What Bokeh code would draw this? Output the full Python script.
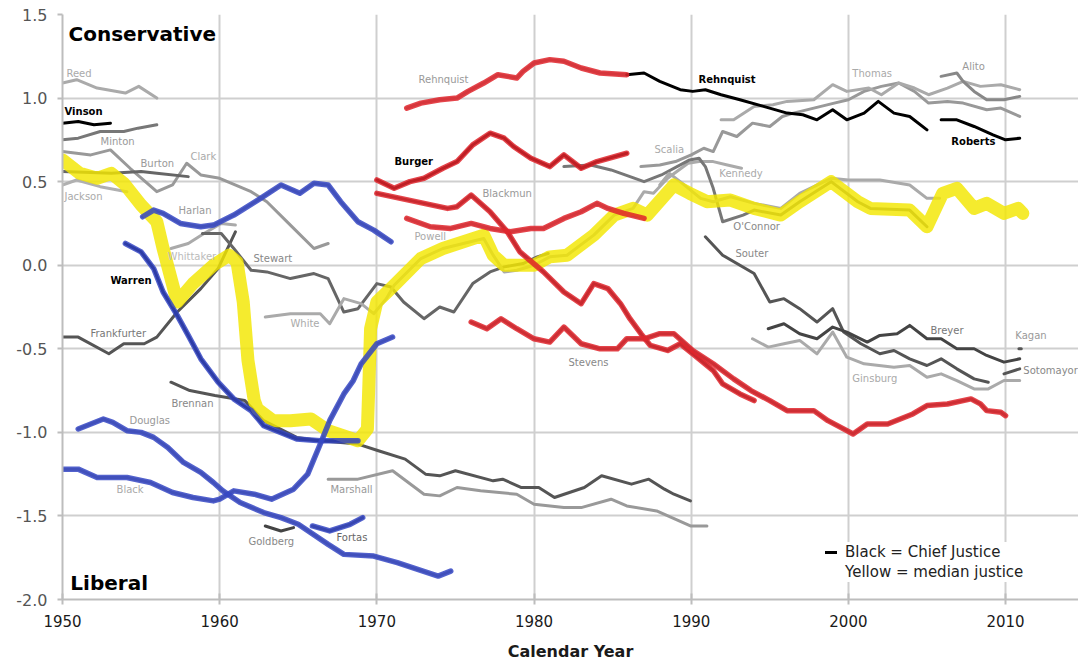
from bokeh.plotting import figure
from bokeh.models import Range1d, FixedTicker, PrintfTickFormatter, Legend, LegendItem, ColumnDataSource
from bokeh.core.properties import value
from bokeh.embed import file_html
from bokeh.resources import INLINE

FONT = "DejaVu Sans"

# ---------------- data ----------------
x_ticks = [1950, 1960, 1970, 1980, 1990, 2000, 2010]
y_ticks = [-2.0, -1.5, -1.0, -0.5, 0.0, 0.5, 1.0, 1.5]

reed_x = [1950.0, 1950.9, 1952.2, 1954.0, 1954.85, 1956.0]
reed_y = [1.09, 1.11, 1.06, 1.03, 1.07, 1.00]

vinson_x = [1950.0, 1951.0, 1952.0, 1953.05]
vinson_y = [0.85, 0.86, 0.84, 0.85]

minton_x = [1950.0, 1951.0, 1952.4, 1953.9, 1954.8, 1956.0]
minton_y = [0.75, 0.76, 0.80, 0.80, 0.82, 0.84]

clark_x = [1950.0, 1951.8, 1953.05, 1954.3, 1956.0, 1957.0, 1957.9, 1958.8, 1960.0, 1962.0, 1963.0, 1964.5, 1966.0, 1966.9]
clark_y = [0.68, 0.66, 0.69, 0.58, 0.44, 0.48, 0.61, 0.54, 0.52, 0.44, 0.38, 0.24, 0.10, 0.13]

burton_x = [1950.0, 1953.1, 1955.0, 1956.0, 1958.0]
burton_y = [0.56, 0.55, 0.56, 0.55, 0.53]

jackson_x = [1950.0, 1950.9, 1952.4, 1954.1]
jackson_y = [0.48, 0.51, 0.47, 0.44]

frankfurter_x = [1950.0, 1951.0, 1952.95, 1953.9, 1955.2, 1956.0, 1957.3, 1958.8, 1959.9, 1961.0]
frankfurter_y = [-0.43, -0.43, -0.53, -0.47, -0.47, -0.43, -0.28, -0.14, -0.02, 0.20]

warren_x = [1954.0, 1955.0, 1955.8, 1956.4, 1957.3, 1958.0, 1958.8, 1959.9, 1960.9, 1962.0, 1962.8, 1964.9, 1966.4, 1968.8]
warren_y = [0.13, 0.08, -0.02, -0.16, -0.30, -0.42, -0.56, -0.70, -0.80, -0.87, -0.96, -1.04, -1.05, -1.05]

harlan_x = [1955.1, 1955.8, 1956.4, 1957.5, 1958.8, 1959.6, 1960.9, 1962.6, 1963.9, 1965.1, 1966.0, 1966.9, 1967.7, 1968.8, 1969.8, 1970.9]
harlan_y = [0.29, 0.33, 0.31, 0.25, 0.23, 0.24, 0.30, 0.40, 0.48, 0.43, 0.49, 0.48, 0.38, 0.26, 0.21, 0.14]

whittaker_x = [1956.9, 1958.0, 1959.0, 1960.1, 1961.0]
whittaker_y = [0.10, 0.13, 0.19, 0.25, 0.24]

stewart_x = [1958.9, 1960.1, 1960.9, 1962.0, 1963.0, 1964.5, 1966.0, 1966.9, 1967.9, 1968.8, 1970.0, 1970.9, 1971.7,
             1973.0, 1974.0, 1974.9, 1976.1, 1977.2, 1978.1, 1979.3, 1980.2, 1980.9]
stewart_y = [0.19, 0.19, 0.10, -0.03, -0.04, -0.08, -0.05, -0.08, -0.28, -0.26, -0.11, -0.13, -0.22,
             -0.32, -0.25, -0.28, -0.11, -0.04, -0.01, 0.01, 0.05, 0.07]

white_x = [1962.9, 1964.5, 1966.4, 1967.0, 1967.9, 1969.0, 1969.8, 1970.6, 1971.1, 1972.8, 1974.2, 1976.8, 1977.4,
           1978.1, 1978.9, 1980.0, 1981.0, 1982.1, 1983.8, 1985.1, 1986.3, 1987.0, 1987.6, 1988.5, 1989.8, 1990.5,
           1991.4, 1992.3, 1993.2]
white_y = [-0.31, -0.29, -0.29, -0.35, -0.20, -0.23, -0.29, -0.20, -0.12, 0.04, 0.10, 0.16, 0.06,
           -0.04, -0.03, 0.0, 0.05, 0.06, 0.18, 0.30, 0.34, 0.44, 0.43, 0.52, 0.61, 0.62,
           0.62, 0.60, 0.58]

brennan_x = [1956.9, 1958.1, 1959.7, 1961.6, 1962.8, 1964.9, 1966.4, 1968.8, 1970.1, 1971.8, 1973.1, 1974.0, 1975.0,
             1977.4, 1978.0, 1979.2, 1980.3, 1981.3, 1983.2, 1984.3, 1986.2, 1987.3, 1988.3, 1988.9, 1989.95]
brennan_y = [-0.70, -0.75, -0.78, -0.81, -0.93, -1.03, -1.05, -1.07, -1.11, -1.16, -1.25, -1.26, -1.23,
             -1.29, -1.28, -1.33, -1.33, -1.39, -1.33, -1.26, -1.31, -1.28, -1.34, -1.37, -1.41]

marshall_x = [1966.9, 1968.8, 1971.0, 1973.0, 1974.0, 1975.1, 1976.6, 1978.9, 1980.0, 1981.9, 1983.0, 1984.9, 1985.9,
              1987.8, 1989.95, 1991.0]
marshall_y = [-1.28, -1.28, -1.23, -1.37, -1.38, -1.33, -1.35, -1.37, -1.43, -1.45, -1.45, -1.40, -1.44,
              -1.47, -1.56, -1.56]

black_x = [1950.0, 1951.0, 1952.2, 1954.1, 1955.6, 1957.0, 1958.3, 1959.6, 1960.0, 1960.9, 1962.2, 1963.3, 1964.7,
           1965.6, 1966.4, 1967.0, 1967.9, 1968.5, 1969.0, 1970.0, 1971.0]
black_y = [-1.22, -1.22, -1.27, -1.27, -1.30, -1.36, -1.39, -1.41, -1.40, -1.35, -1.37, -1.40, -1.34,
           -1.25, -1.07, -0.93, -0.77, -0.69, -0.59, -0.47, -0.43]

douglas_x = [1951.0, 1951.8, 1952.6, 1953.2, 1954.1, 1955.0, 1955.8, 1956.7, 1957.7, 1958.8, 1959.6, 1960.2, 1961.3,
             1962.8, 1963.9, 1965.0, 1966.9, 1967.9, 1969.8, 1971.3, 1973.9, 1974.7]
douglas_y = [-0.98, -0.95, -0.92, -0.94, -0.99, -1.00, -1.03, -1.09, -1.18, -1.24, -1.30, -1.35, -1.42,
             -1.48, -1.51, -1.55, -1.67, -1.73, -1.74, -1.78, -1.86, -1.83]

goldberg_x = [1962.9, 1963.9, 1964.7]
goldberg_y = [-1.56, -1.59, -1.57]

fortas_x = [1965.9, 1967.0, 1968.3, 1969.1]
fortas_y = [-1.56, -1.59, -1.55, -1.51]

burger_x = [1970.0, 1971.1, 1972.1, 1973.0, 1974.2, 1975.1, 1976.1, 1977.2, 1978.1, 1978.7, 1979.8, 1981.0, 1981.9,
            1983.0, 1984.0, 1985.9]
burger_y = [0.51, 0.46, 0.50, 0.52, 0.58, 0.62, 0.72, 0.79, 0.76, 0.71, 0.64, 0.59, 0.66,
            0.58, 0.62, 0.67]

rehnquist_x = [1971.9, 1972.8, 1974.0, 1975.1, 1975.8, 1976.8, 1977.7, 1978.9, 1979.3, 1980.0, 1981.0, 1981.9,
               1983.0, 1984.2, 1985.9]
rehnquist_y = [0.94, 0.97, 0.99, 1.00, 1.04, 1.09, 1.14, 1.12, 1.16, 1.21, 1.23, 1.22,
               1.18, 1.15, 1.14]

rehnquist_cj_x = [1985.9, 1987.0, 1988.0, 1989.3, 1990.1, 1990.9, 1991.9, 1993.1, 1994.6, 1996.1, 1997.1, 1998.0,
                  1999.0, 1999.9, 2001.0, 2001.9, 2002.9, 2003.9, 2005.0]
rehnquist_cj_y = [1.14, 1.15, 1.10, 1.05, 1.04, 1.05, 1.02, 0.99, 0.95, 0.91, 0.90, 0.87,
                  0.93, 0.87, 0.91, 0.98, 0.91, 0.89, 0.81]

blackmun_x = [1970.0, 1971.5, 1973.0, 1974.5, 1975.1, 1976.0, 1977.2, 1978.3, 1979.1, 1980.6, 1981.9, 1983.0, 1983.8,
              1984.7, 1985.5, 1986.1, 1986.8, 1987.4, 1988.5, 1989.3, 1990.1, 1991.4, 1992.0, 1993.1, 1994.0]
blackmun_y = [0.43, 0.40, 0.37, 0.34, 0.35, 0.42, 0.32, 0.20, 0.08, -0.04, -0.16, -0.23, -0.11,
              -0.14, -0.23, -0.32, -0.41, -0.48, -0.51, -0.47, -0.53, -0.63, -0.71, -0.77, -0.81]

powell_x = [1971.9, 1973.4, 1974.7, 1976.0, 1977.2, 1978.5, 1979.8, 1980.6, 1981.9, 1983.0, 1984.0, 1984.7, 1985.7, 1987.0]
powell_y = [0.28, 0.23, 0.22, 0.25, 0.22, 0.20, 0.22, 0.22, 0.28, 0.32, 0.37, 0.34, 0.31, 0.28]

stevens_x = [1976.0, 1977.0, 1977.9, 1978.9, 1980.0, 1981.0, 1981.9, 1983.0, 1984.2, 1985.3, 1985.9, 1987.0, 1988.0,
             1988.9, 1990.1, 1991.4, 1992.7, 1993.8, 1995.0, 1996.1, 1997.8, 1998.7, 1999.9, 2000.3, 2001.2, 2002.5,
             2004.1, 2005.0, 2006.3, 2007.8, 2008.4, 2008.8, 2009.7, 2010.0]
stevens_y = [-0.34, -0.38, -0.32, -0.38, -0.44, -0.46, -0.37, -0.47, -0.50, -0.50, -0.44, -0.44, -0.41,
             -0.41, -0.51, -0.59, -0.68, -0.75, -0.81, -0.87, -0.87, -0.93, -0.99, -1.01, -0.95, -0.95,
             -0.89, -0.84, -0.83, -0.80, -0.83, -0.87, -0.88, -0.90]

oconnor_x = [1981.9, 1983.6, 1984.9, 1987.0, 1988.1, 1989.9, 1990.5, 1990.9, 1991.4, 1992.0, 1993.3, 1994.0, 1995.7,
             1996.9, 1998.9, 2000.6, 2001.4, 2003.9, 2005.0]
oconnor_y = [0.59, 0.60, 0.57, 0.50, 0.54, 0.63, 0.64, 0.59, 0.46, 0.26, 0.30, 0.33, 0.30,
             0.38, 0.50, 0.38, 0.34, 0.33, 0.23]

scalia_x = [1986.8, 1988.0, 1989.0, 1990.0, 1990.8, 1991.4, 1992.0, 1992.9, 1993.9, 1995.0, 1995.8, 1996.5, 1997.8,
            1999.1, 2000.0, 2001.0, 2002.1, 2003.2, 2004.2, 2005.1, 2006.3, 2007.3, 2008.8, 2009.7, 2010.9]
scalia_y = [0.59, 0.60, 0.62, 0.66, 0.70, 0.68, 0.80, 0.77, 0.85, 0.83, 0.89, 0.91, 0.94,
            0.97, 0.99, 1.04, 1.07, 1.09, 1.04, 0.97, 0.98, 0.97, 0.93, 0.94, 0.89]

kennedy_x = [1988.0, 1988.6, 1989.3, 1990.6, 1991.4, 1992.5, 1994.0, 1995.7, 1996.9, 1998.9, 2000.0, 2002.0, 2003.9,
             2005.0, 2005.8]
kennedy_y = [0.48, 0.55, 0.50, 0.40, 0.38, 0.41, 0.37, 0.34, 0.43, 0.52, 0.51, 0.51, 0.48,
             0.40, 0.40]

thomas_x = [1991.9, 1992.7, 1994.0, 1995.2, 1996.1, 1997.8, 1999.0, 1999.9, 2001.3, 2002.1, 2003.2, 2004.2, 2005.1,
            2006.3, 2007.3, 2008.4, 2009.7, 2010.9]
thomas_y = [0.87, 0.87, 0.95, 0.96, 0.98, 0.99, 1.08, 1.04, 1.06, 1.02, 1.09, 1.06, 1.02,
            1.06, 1.10, 1.07, 1.08, 1.05]

alito_x = [2005.9, 2006.9, 2007.3, 2008.0, 2008.8, 2009.9, 2010.9]
alito_y = [1.13, 1.15, 1.10, 1.04, 0.99, 0.99, 1.01]

roberts_x = [2005.9, 2006.9, 2008.0, 2009.2, 2010.0, 2010.9]
roberts_y = [0.87, 0.87, 0.83, 0.78, 0.75, 0.76]

souter_x = [1990.9, 1992.0, 1994.0, 1995.0, 1995.9, 1996.9, 1998.0, 1999.0, 1999.7, 2000.8, 2002.0, 2002.9, 2003.9,
            2005.0, 2005.9, 2006.9, 2008.0, 2008.9]
souter_y = [0.17, 0.06, -0.05, -0.22, -0.20, -0.26, -0.34, -0.26, -0.40, -0.47, -0.53, -0.51, -0.56,
            -0.60, -0.56, -0.62, -0.68, -0.70]

breyer_x = [1994.9, 1995.9, 1996.9, 1998.0, 1999.0, 1999.9, 2001.2, 2002.0, 2003.1, 2003.9, 2005.0, 2005.9, 2006.9,
            2008.0, 2008.8, 2009.9, 2010.9]
breyer_y = [-0.38, -0.35, -0.41, -0.44, -0.37, -0.40, -0.46, -0.42, -0.41, -0.36, -0.44, -0.44, -0.50,
            -0.50, -0.54, -0.58, -0.56]

ginsburg_x = [1993.9, 1994.9, 1995.9, 1996.9, 1998.0, 1999.0, 1999.9, 2001.0, 2002.9, 2003.9, 2005.0, 2005.9, 2006.9,
              2008.0, 2008.9, 2009.9, 2010.9]
ginsburg_y = [-0.44, -0.49, -0.47, -0.45, -0.53, -0.40, -0.55, -0.59, -0.61, -0.60, -0.67, -0.65, -0.69,
              -0.74, -0.74, -0.69, -0.69]

sotomayor_x = [2009.9, 2010.9]
sotomayor_y = [-0.65, -0.62]

kagan_x = [2010.85, 2011.0]
kagan_y = [-0.50, -0.50]

median_x = [1950.0, 1951.1, 1952.2, 1953.1, 1953.9, 1955.0, 1956.0, 1956.4, 1957.3, 1958.3, 1959.6, 1960.6, 1961.1,
            1961.5, 1961.8, 1962.2, 1962.4, 1963.4, 1964.5, 1965.8, 1966.9, 1968.8, 1969.4, 1969.5, 1969.6, 1970.0,
            1971.1, 1972.8, 1974.2, 1976.8, 1977.4, 1978.1, 1980.0, 1981.0, 1982.1, 1983.8, 1985.1, 1986.3, 1987.2,
            1988.9, 1989.9, 1991.0, 1992.5, 1994.0, 1995.7, 1996.9, 1998.9, 2000.6, 2001.4, 2003.9, 2005.0, 2006.0,
            2006.9, 2008.0, 2008.8, 2009.9, 2010.8, 2011.1]
median_y = [0.63, 0.55, 0.52, 0.55, 0.49, 0.36, 0.26, 0.10, -0.22, -0.11, 0.0, 0.06, 0.02,
            -0.22, -0.57, -0.81, -0.86, -0.93, -0.93, -0.92, -0.99, -1.05, -0.98, -0.69, -0.38, -0.22,
            -0.12, 0.04, 0.10, 0.18, 0.06, 0.0, 0.0, 0.05, 0.06, 0.18, 0.30, 0.34, 0.30,
            0.48, 0.43, 0.38, 0.39, 0.34, 0.30, 0.38, 0.50, 0.38, 0.34, 0.33, 0.23, 0.43,
            0.46, 0.34, 0.37, 0.31, 0.34, 0.31]

# name labels: text, anchor year, anchor score, colour
label_names = ["Reed", "Minton", "Burton", "Clark", "Jackson", "Harlan", "Whittaker", "Stewart", "Frankfurter",
               "White", "Brennan", "Douglas", "Black", "Goldberg", "Fortas", "Marshall", "Rehnquist", "Blackmun",
               "Powell", "Stevens", "Scalia", "Kennedy", "O'Connor", "Souter", "Thomas", "Alito", "Breyer",
               "Ginsburg", "Kagan", "Sotomayor"]
label_x = [1950.25, 1952.42, 1954.96, 1958.14, 1950.13, 1957.38, 1956.68, 1962.15, 1951.78,
           1964.5, 1956.93, 1954.26, 1953.44, 1961.83, 1967.43, 1967.05, 1972.65, 1976.72,
           1972.39, 1982.19, 1987.66, 1991.79, 1992.68, 1992.81, 2000.25, 2007.25, 2005.22,
           2000.25, 2010.62, 2011.13]
label_y = [1.15, 0.74, 0.61, 0.65, 0.41, 0.33, 0.05, 0.04, -0.41,
           -0.35, -0.83, -0.93, -1.34, -1.65, -1.63, -1.34, 1.11, 0.43,
           0.17, -0.58, 0.69, 0.55, 0.23, 0.07, 1.15, 1.19, -0.39,
           -0.68, -0.42, -0.63]
label_colors = ["#aaaaaa", "#999999", "#999999", "#aaaaaa", "#aaaaaa", "#999999", "#bbbbbb", "#888888", "#777777",
                "#aaaaaa", "#888888", "#999999", "#aaaaaa", "#888888", "#666666", "#999999", "#999999", "#999999",
                "#aaaaaa", "#888888", "#aaaaaa", "#aaaaaa", "#888888", "#888888", "#aaaaaa", "#999999", "#777777",
                "#aaaaaa", "#999999", "#888888"]

chief_names = ["Vinson", "Warren", "Burger", "Rehnquist", "Roberts"]
chief_x = [1950.13, 1953.05, 1971.12, 1990.46, 2006.55]
chief_y = [0.92, -0.09, 0.62, 1.11, 0.74]

# ---------------- figure ----------------
p = figure(width=1078, height=665,
           x_range=Range1d(1950, 2014.64), y_range=Range1d(-2.0, 1.5),
           output_backend="svg", toolbar_location=None,
           min_border_left=62, min_border_right=0, min_border_top=14, min_border_bottom=66)
p.outline_line_color = None
p.background_fill_color = "white"
p.border_fill_color = "white"

p.xaxis.ticker = FixedTicker(ticks=x_ticks)
p.yaxis.ticker = FixedTicker(ticks=y_ticks)
p.xgrid.ticker = FixedTicker(ticks=x_ticks)
p.ygrid.ticker = FixedTicker(ticks=y_ticks)
p.yaxis.formatter = PrintfTickFormatter(format="%.1f")
for g in (p.xgrid, p.ygrid):
    g.grid_line_color = "#cfcfcf"
    g.grid_line_width = 2

for ax in (p.xaxis, p.yaxis):
    ax.axis_line_color = "#bdbdbd"
    ax.axis_line_width = 2
    ax.major_tick_line_color = "#bdbdbd"
    ax.major_tick_line_width = 2
    ax.minor_tick_line_color = None
    ax.major_label_text_font = FONT

p.xaxis.major_tick_out = 5
p.xaxis.major_tick_in = 6
p.xaxis.major_label_standoff = 10
p.xaxis.major_label_text_font_size = "15px"
p.xaxis.major_label_text_color = "#1a1a1a"
p.xaxis.axis_label = "Calendar Year"
p.xaxis.axis_label_text_font = FONT
p.xaxis.axis_label_text_font_style = "bold"
p.xaxis.axis_label_text_font_size = "16px"
p.xaxis.axis_label_text_color = "#1a1a1a"
p.xaxis.axis_label_standoff = 12

p.yaxis.major_tick_out = 5
p.yaxis.major_tick_in = 0
p.yaxis.major_label_standoff = 10
p.yaxis.major_label_text_font_size = "16px"
p.yaxis.major_label_text_color = "#555555"


def base(xs, ys, color, width=3.0):
    return p.line(xs, ys, line_color=color, line_width=width, line_join="round", line_cap="round")


def marker(xs, ys, color, width=5.5, alpha=0.85):
    return p.line(xs, ys, line_color=color, line_width=width, line_alpha=alpha,
                  line_join="round", line_cap="round")


# plain associate-justice lines
base(reed_x, reed_y, "#aaaaaa")
base(minton_x, minton_y, "#777777")
base(clark_x, clark_y, "#999999")
base(burton_x, burton_y, "#666666")
base(jackson_x, jackson_y, "#b0b0b0")
base(frankfurter_x, frankfurter_y, "#555555")
base(whittaker_x, whittaker_y, "#aaaaaa")
base(stewart_x, stewart_y, "#666666")
base(white_x, white_y, "#aaaaaa")
base(brennan_x, brennan_y, "#555555")
base(marshall_x, marshall_y, "#999999")
base(goldberg_x, goldberg_y, "#444444")
base(oconnor_x, oconnor_y, "#777777")
base(scalia_x, scalia_y, "#999999")
base(kennedy_x, kennedy_y, "#aaaaaa")
base(thomas_x, thomas_y, "#aaaaaa")
base(alito_x, alito_y, "#888888")
base(souter_x, souter_y, "#555555")
base(breyer_x, breyer_y, "#444444")
base(ginsburg_x, ginsburg_y, "#aaaaaa")
base(sotomayor_x, sotomayor_y, "#555555")
base(kagan_x, kagan_y, "#555555")

# base lines under hand-drawn highlights
base(warren_x, warren_y, "#000000")
base(harlan_x, harlan_y, "#888888")
base(black_x, black_y, "#888888")
base(douglas_x, douglas_y, "#888888")
base(fortas_x, fortas_y, "#444444")
base(burger_x, burger_y, "#000000")
base(rehnquist_x, rehnquist_y, "#999999")
base(blackmun_x, blackmun_y, "#444444")
base(powell_x, powell_y, "#999999")
base(stevens_x, stevens_y, "#666666")

# chief justices in black
r_chief = base(vinson_x, vinson_y, "#000000")
base(rehnquist_cj_x, rehnquist_cj_y, "#000000")
base(roberts_x, roberts_y, "#000000")

# median justice (yellow)
p.line(median_x, median_y, line_color="#f3e600", line_width=13, line_alpha=0.82,
       line_join="round", line_cap="round")

# blue highlights (Warren court liberals)
BLUE = "#3546c4"
for xs, ys in ((warren_x, warren_y), (harlan_x, harlan_y), (black_x, black_y),
               (douglas_x, douglas_y), (fortas_x, fortas_y)):
    marker(xs, ys, BLUE)

# red highlights (Burger court)
RED = "#e0242c"
for xs, ys in ((burger_x, burger_y), (rehnquist_x, rehnquist_y), (blackmun_x, blackmun_y),
               (powell_x, powell_y), (stevens_x, stevens_y)):
    marker(xs, ys, RED)

# name labels
src = ColumnDataSource(dict(x=label_x, y=label_y, t=label_names, c=label_colors))
p.text(x="x", y="y", text="t", text_color="c", source=src, text_font=value(FONT),
       text_font_size="10px", text_baseline="middle", text_align="left")
src2 = ColumnDataSource(dict(x=chief_x, y=chief_y, t=chief_names))
p.text(x="x", y="y", text="t", text_color="#000000", source=src2, text_font=value(FONT),
       text_font_size="10px", text_font_style="bold", text_baseline="middle", text_align="left")

p.text(x=[1950.38], y=[1.383], text=["Conservative"], text_font=value(FONT), text_font_size="20px",
       text_font_style="bold", text_color="#000000", text_baseline="middle", text_align="left")
p.text(x=[1950.5], y=[-1.904], text=["Liberal"], text_font=value(FONT), text_font_size="20px",
       text_font_style="bold", text_color="#000000", text_baseline="middle", text_align="left")

# legend
r_yel = p.line(x=[], y=[], line_color="#eeeeee", line_width=2)
legend = Legend(items=[LegendItem(label="Black = Chief Justice", renderers=[r_chief]),
                       LegendItem(label="Yellow = median justice", renderers=[r_yel])],
                location=(763, 17), orientation="vertical",
                background_fill_color="white", background_fill_alpha=1.0,
                border_line_color=None, padding=10, spacing=0, margin=0,
                glyph_width=12, glyph_height=20, label_height=20, label_standoff=8,
                label_text_font=FONT, label_text_font_size="15px", label_text_color="#222222")
p.add_layout(legend, "center")

open("out.html", "w").write(file_html(p, INLINE))
